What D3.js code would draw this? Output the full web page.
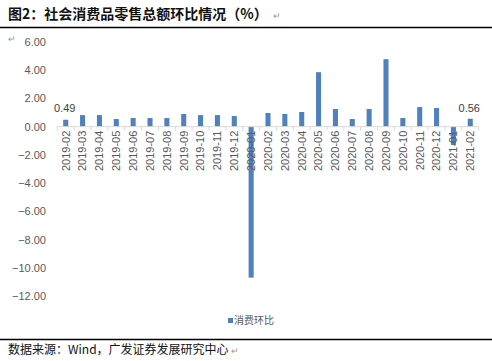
<!DOCTYPE html>
<html><head><meta charset="utf-8">
<script src="https://cdn.jsdelivr.net/npm/d3@7/dist/d3.min.js"></script>
<style>body{margin:0;background:#fff;}svg{display:block;}</style>
</head><body>
<svg id="c" width="492" height="361"></svg>
<script>
const categories = ["2019-02","2019-03","2019-04","2019-05","2019-06","2019-07","2019-08","2019-09","2019-10","2019-11","2019-12","2020-01","2020-02","2020-03","2020-04","2020-05","2020-06","2020-07","2020-08","2020-09","2020-10","2020-11","2020-12","2021-01","2021-02"];
const values = [0.49,0.82,0.82,0.54,0.61,0.61,0.61,0.90,0.82,0.82,0.75,-10.7,0.97,0.90,1.04,3.86,1.25,0.54,1.25,4.78,0.61,1.39,1.32,-1.3,0.56];
const yTicks = [6,4,2,0,-2,-4,-6,-8,-10,-12];
const labeled = ["2019-02","2021-02"];
const titleText = "图2：社会消费品零售总额环比情况（%）";
const sourceText = "数据来源：Wind，广发证券发展研究中心";
const seriesName = "消费环比";

const svg = d3.select("#c");
const cjk = "'Noto Sans CJK SC','Noto Sans',sans-serif";
const lat = "'Liberation Sans',Arial,sans-serif";

const x = d3.scaleBand().domain(categories).range([57.3, 478.7]).paddingInner(0.7).paddingOuter(0.35);
const y = d3.scaleLinear().domain([-12, 6]).range([296, 42]);

// title
const title = svg.append("text").attr("x", 8).attr("y", 19).attr("font-family", cjk).attr("font-weight", 700)
  .attr("font-size", 14).attr("fill", "#111").text(titleText);
const tw = title.node().getComputedTextLength();
svg.append("text").attr("x", 8 + tw + 5).attr("y", 19).attr("font-family", cjk).attr("font-size", 9).attr("fill", "#999").text("↵");
svg.append("line").attr("x1", 0).attr("x2", 492).attr("y1", 27.5).attr("y2", 27.5).attr("stroke", "#000").attr("stroke-width", 1.5);
svg.append("text").attr("x", 8).attr("y", 42).attr("font-family", cjk).attr("font-size", 9).attr("fill", "#999").text("↵");

// y axis labels
const yAxis = d3.axisLeft(y).tickValues(yTicks).tickFormat(d3.format(".2f")).tickSize(0).tickPadding(0);
const gy = svg.append("g").attr("transform", "translate(46,0)").call(yAxis);
gy.select(".domain").remove();
gy.selectAll("text").attr("font-family", lat).attr("font-size", 11).attr("fill", "#595959");

// bars
svg.append("g").selectAll("rect").data(categories).join("rect")
  .attr("x", d => x(d)).attr("width", x.bandwidth())
  .attr("y", (d, i) => y(Math.max(0, values[i])))
  .attr("height", (d, i) => Math.abs(y(values[i]) - y(0)))
  .attr("fill", "#4f81bd");

// x axis
const xAxis = d3.axisBottom(x).tickSize(0).tickPadding(0);
const gx = svg.append("g").attr("transform", `translate(0,${y(0)})`).call(xAxis);
gx.select(".domain").attr("stroke", "#d9d9d9").attr("d", `M57.3,0H478.7`);
const bounds = d3.range(categories.length + 1).map(i => 57.3 + i * (478.7 - 57.3) / categories.length);
gx.selectAll(".bt").data(bounds).join("line").attr("class", "bt")
  .attr("x1", d => d).attr("x2", d => d).attr("y1", 0).attr("y2", 4).attr("stroke", "#d9d9d9");
gx.selectAll(".tick text").attr("font-family", lat).attr("font-size", 11).attr("fill", "#595959")
  .attr("transform", "rotate(-90)").attr("text-anchor", "end").attr("dx", "-4").attr("dy", "0.35em")
  .attr("x", 0).attr("y", 0);

// data labels
svg.append("g").selectAll("text").data(categories.filter(c => labeled.includes(c))).join("text")
  .attr("x", d => x(d) + x.bandwidth() / 2 - 1).attr("y", 112)
  .attr("text-anchor", "middle").attr("font-family", lat).attr("font-size", 11).attr("fill", "#404040")
  .text(d => values[categories.indexOf(d)].toFixed(2));

// legend
svg.append("rect").attr("x", 228).attr("y", 318).attr("width", 5).attr("height", 5).attr("fill", "#4f81bd");
svg.append("text").attr("x", 234).attr("y", 324).attr("font-family", cjk).attr("font-size", 10).attr("fill", "#595959").text(seriesName);

// bottom line + source
svg.append("line").attr("x1", 0).attr("x2", 492).attr("y1", 339.5).attr("y2", 339.5).attr("stroke", "#000").attr("stroke-width", 1.5);
const src = svg.append("text").attr("x", 8).attr("y", 354).attr("font-family", cjk).attr("font-size", 12).attr("fill", "#111").text(sourceText);
const sw = src.node().getComputedTextLength();
svg.append("text").attr("x", 8 + sw + 2).attr("y", 354).attr("font-family", cjk).attr("font-size", 9).attr("fill", "#999").text("↵");
</script>
</body></html>
